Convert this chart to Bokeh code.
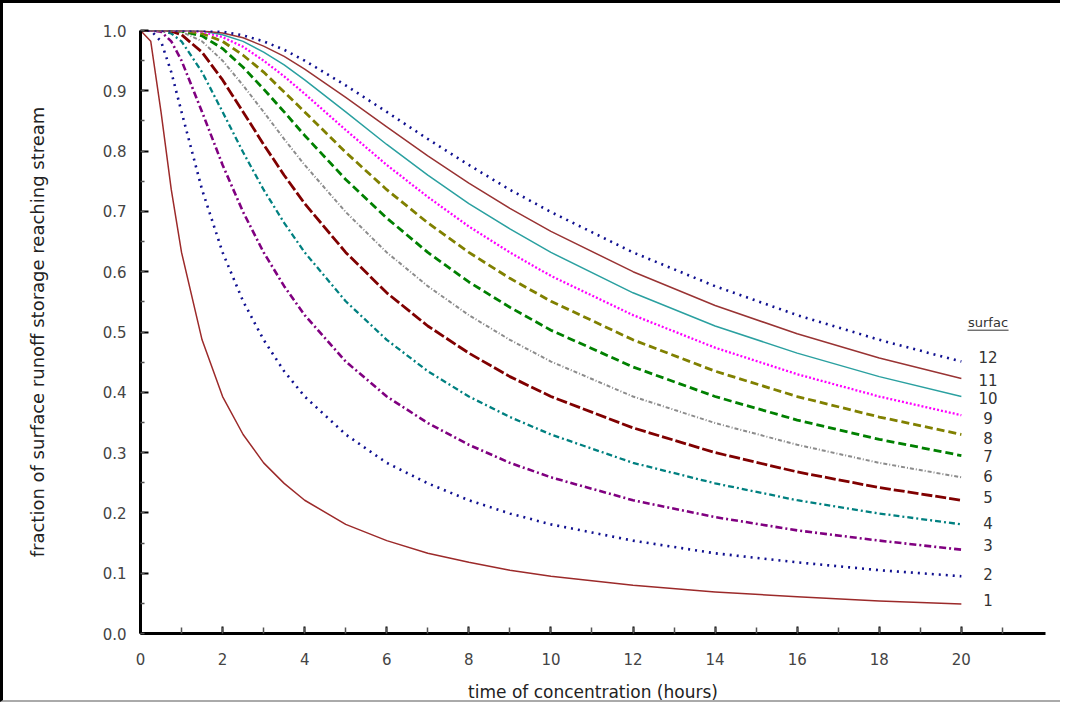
from bokeh.plotting import figure
from bokeh.models import Range1d, FixedTicker, CustomJSTickFormatter
from bokeh.core.properties import value
from bokeh.embed import file_html
from bokeh.resources import INLINE

# time of concentration (hours)
t_conc = [0, 0.25, 0.5, 0.75, 1, 1.5, 2, 2.5, 3, 3.5, 4, 5, 6, 7, 8, 9, 10, 12, 14, 16, 18, 20]

# fraction of surface runoff storage reaching stream, one list per surlag value
surlag_1 = [1.0, 0.982, 0.865, 0.736, 0.632, 0.487, 0.393, 0.330, 0.283, 0.249, 0.221, 0.181, 0.154, 0.133, 0.118, 0.105, 0.095, 0.080, 0.069, 0.061, 0.054, 0.049]
surlag_2 = [1.0, 1.0, 0.982, 0.931, 0.865, 0.736, 0.632, 0.551, 0.487, 0.435, 0.393, 0.330, 0.283, 0.249, 0.221, 0.199, 0.181, 0.154, 0.133, 0.118, 0.105, 0.095]
surlag_3 = [1.0, 1.0, 0.998, 0.982, 0.950, 0.865, 0.777, 0.699, 0.632, 0.576, 0.528, 0.451, 0.393, 0.349, 0.313, 0.283, 0.259, 0.221, 0.193, 0.171, 0.154, 0.139]
surlag_4 = [1.0, 1.0, 1.0, 0.995, 0.982, 0.931, 0.865, 0.798, 0.736, 0.681, 0.632, 0.551, 0.487, 0.435, 0.393, 0.359, 0.330, 0.283, 0.249, 0.221, 0.199, 0.181]
surlag_5 = [1.0, 1.0, 1.0, 0.999, 0.993, 0.964, 0.918, 0.865, 0.811, 0.760, 0.713, 0.632, 0.565, 0.510, 0.465, 0.426, 0.393, 0.341, 0.300, 0.268, 0.242, 0.221]
surlag_6 = [1.0, 1.0, 1.0, 1.0, 0.998, 0.982, 0.950, 0.909, 0.865, 0.820, 0.777, 0.699, 0.632, 0.576, 0.528, 0.487, 0.451, 0.393, 0.349, 0.313, 0.283, 0.259]
surlag_7 = [1.0, 1.0, 1.0, 1.0, 0.999, 0.991, 0.970, 0.939, 0.903, 0.865, 0.826, 0.753, 0.689, 0.632, 0.583, 0.541, 0.503, 0.442, 0.393, 0.354, 0.322, 0.295]
surlag_8 = [1.0, 1.0, 1.0, 1.0, 1.0, 0.995, 0.982, 0.959, 0.931, 0.898, 0.865, 0.798, 0.736, 0.681, 0.632, 0.589, 0.551, 0.487, 0.435, 0.393, 0.359, 0.330]
surlag_9 = [1.0, 1.0, 1.0, 1.0, 1.0, 0.998, 0.989, 0.973, 0.950, 0.924, 0.895, 0.835, 0.777, 0.724, 0.675, 0.632, 0.593, 0.528, 0.474, 0.430, 0.393, 0.362]
surlag_10 = [1.0, 1.0, 1.0, 1.0, 1.0, 0.999, 0.993, 0.982, 0.964, 0.943, 0.918, 0.865, 0.811, 0.760, 0.713, 0.671, 0.632, 0.565, 0.510, 0.465, 0.426, 0.393]
surlag_11 = [1.0, 1.0, 1.0, 1.0, 1.0, 0.999, 0.996, 0.988, 0.974, 0.957, 0.936, 0.889, 0.840, 0.792, 0.747, 0.705, 0.667, 0.600, 0.544, 0.497, 0.457, 0.423]
surlag_12 = [1.0, 1.0, 1.0, 1.0, 1.0, 1.0, 0.998, 0.992, 0.982, 0.968, 0.950, 0.909, 0.865, 0.820, 0.777, 0.736, 0.699, 0.632, 0.576, 0.528, 0.487, 0.451]

series_names = ["1", "2", "3", "4", "5", "6", "7", "8", "9", "10", "11", "12"]
series_values = [surlag_1, surlag_2, surlag_3, surlag_4, surlag_5, surlag_6,
                 surlag_7, surlag_8, surlag_9, surlag_10, surlag_11, surlag_12]

# label heights beside curve ends (value units)
label_heights = [0.055, 0.098, 0.146, 0.184, 0.226, 0.262, 0.295, 0.325, 0.357, 0.391, 0.421, 0.458]
legend_title = "surfac"

x_ticks = [0, 2, 4, 6, 8, 10, 12, 14, 16, 18, 20]
y_ticks = [0.0, 0.1, 0.2, 0.3, 0.4, 0.5, 0.6, 0.7, 0.8, 0.9, 1.0]

styles = [
    dict(color="#9c2a2a", width=1.5, dash="solid"),
    dict(color="#101090", width=2.6, dash="2 5"),
    dict(color="#800080", width=2.6, dash="7 3 2 3"),
    dict(color="#008080", width=2.3, dash="6 3 2 3"),
    dict(color="#800000", width=2.8, dash="11 3"),
    dict(color="#8c8c8c", width=2.0, dash="4 2 1 2"),
    dict(color="#008000", width=2.8, dash="8 4"),
    dict(color="#808000", width=2.8, dash="8 4"),
    dict(color="#ff00ff", width=2.3, dash="2 2"),
    dict(color="#2aa0a0", width=1.5, dash="solid"),
    dict(color="#993333", width=1.5, dash="solid"),
    dict(color="#101090", width=2.6, dash="2 5"),
]

p = figure(width=1060, height=702, output_backend="svg", toolbar_location=None,
           x_range=Range1d(0, 22.05), y_range=Range1d(0, 1.0),
           min_border_left=137, min_border_right=18, min_border_top=27, min_border_bottom=72)
p.styles = {"border-left": "3px solid black", "border-top": "3px solid black",
            "border-bottom": "2px solid #aaaaaa"}
p.outline_line_color = None
p.xgrid.visible = False
p.ygrid.visible = False
p.background_fill_color = "white"
p.border_fill_color = "white"

for vals, st in zip(series_values, styles):
    p.line(t_conc, vals, line_color=st["color"], line_width=st["width"],
           line_dash=st["dash"], line_join="round")

# labels at curve ends
label_x = t_conc[-1] + 0.65
p.text(x=[label_x] * len(series_names), y=label_heights, text=series_names,
       text_font=value("DejaVu Sans"), text_font_size="15px", text_color="#333333",
       text_align="center", text_baseline="middle")
p.text(x=[label_x], y=[label_heights[-1] + 0.058], text=[legend_title],
       text_font=value("DejaVu Sans"), text_font_size="13px", text_color="#333333",
       text_align="center", text_baseline="middle")
p.segment(x0=[label_x - 0.5], x1=[label_x + 0.5], y0=[label_heights[-1] + 0.045],
          y1=[label_heights[-1] + 0.045], line_color="#333333", line_width=1)

# axes
for ax in (p.xaxis[0], p.yaxis[0]):
    ax.axis_line_width = 3
    ax.axis_line_color = "black"
    ax.major_tick_out = 0
    ax.minor_tick_out = 0
    ax.major_tick_line_color = "black"
    ax.minor_tick_line_color = "#555555"
    ax.major_tick_line_width = 2
    ax.minor_tick_line_width = 1.5
    ax.major_label_text_font = "DejaVu Sans"
    ax.major_label_text_font_size = "15px"
    ax.major_label_text_color = "#444444"
    ax.axis_label_text_font = "DejaVu Sans"
    ax.axis_label_text_font_style = "normal"
    ax.axis_label_text_color = "#222222"

p.xaxis.ticker = FixedTicker(ticks=x_ticks, minor_ticks=list(range(0, 22)))
p.xaxis.major_tick_in = 7
p.xaxis.minor_tick_in = 6
p.xaxis.major_label_standoff = 19
p.xaxis.axis_label = "time of concentration (hours)"
p.xaxis.axis_label_text_font_size = "17px"
p.xaxis.axis_label_standoff = 14

p.yaxis.ticker = FixedTicker(ticks=y_ticks, minor_ticks=[i * 0.05 for i in range(21)])
p.yaxis.major_tick_in = 8
p.yaxis.minor_tick_in = 4
p.yaxis.major_label_standoff = 14
p.yaxis.formatter = CustomJSTickFormatter(code="return tick.toFixed(1);")
p.yaxis.axis_label = "fraction of surface runoff storage reaching stream"
p.yaxis.axis_label_text_font_size = "18px"
p.yaxis.axis_label_standoff = 52

open("out.html", "w").write(file_html(p, INLINE))
